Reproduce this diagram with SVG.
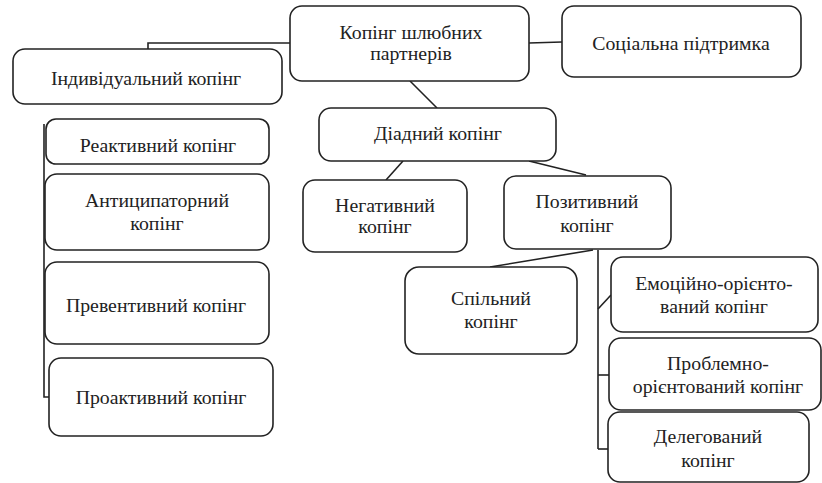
<svg xmlns="http://www.w3.org/2000/svg" width="822" height="483" viewBox="0 0 822 483">
<style>
.box{fill:#fff;stroke:#222;stroke-width:1.6}
.ln{fill:none;stroke:#222;stroke-width:1.6}
.t{fill:#222;text-anchor:middle}
</style>
<rect width="822" height="483" fill="#fff"/>
<g id="connectors">
<polyline class="ln" points="148,49 148,43 291,43"/>
<line class="ln" x1="529" y1="43" x2="562" y2="42"/>
<line class="ln" x1="410" y1="81" x2="437" y2="108"/>
<line class="ln" x1="403" y1="161" x2="386" y2="180"/>
<line class="ln" x1="529" y1="161" x2="586" y2="175"/>
<polyline class="ln" points="44,124 44,397 49,397"/>
<line class="ln" x1="598" y1="250" x2="598" y2="449"/>
<line class="ln" x1="598" y1="449" x2="608" y2="449"/>
<line class="ln" x1="593" y1="250" x2="490" y2="267"/>
<line class="ln" x1="598" y1="309" x2="611" y2="295"/>
<line class="ln" x1="598" y1="375" x2="609" y2="375"/>
</g>
<g font-family="Liberation Serif, Times New Roman, serif" font-size="19.8">
<g id="n-main"><rect class="box" x="290" y="6" width="239" height="75" rx="12"/><text class="t" x="411" y="39">Копінг шлюбних</text><text class="t" x="411" y="60">партнерів</text></g>
<g id="n-social"><rect class="box" x="562" y="6" width="239" height="71" rx="12"/><text class="t" x="681" y="50">Соціальна підтримка</text></g>
<g id="n-individual"><rect class="box" x="13" y="49" width="269" height="55" rx="12"/><text class="t" x="146" y="85">Індивідуальний копінг</text></g>
<g id="n-dyadic"><rect class="box" x="319" y="108" width="237" height="53" rx="12"/><text class="t" x="438" y="140">Діадний копінг</text></g>
<g id="n-reactive"><rect class="box" x="46" y="119" width="223" height="45" rx="10"/><text class="t" x="158" y="152">Реактивний копінг</text></g>
<g id="n-anticipatory"><rect class="box" x="45" y="174" width="224" height="76" rx="12"/><text class="t" x="157" y="207">Антиципаторний</text><text class="t" x="157" y="230">копінг</text></g>
<g id="n-preventive"><rect class="box" x="45" y="262" width="224" height="82" rx="12"/><text class="t" x="156" y="312">Превентивний копінг</text></g>
<g id="n-proactive"><rect class="box" x="49" y="358" width="224" height="78" rx="12"/><text class="t" x="161" y="404">Проактивний копінг</text></g>
<g id="n-negative"><rect class="box" x="303" y="180" width="164" height="72" rx="12"/><text class="t" x="385" y="212">Негативний</text><text class="t" x="385" y="233">копінг</text></g>
<g id="n-positive"><rect class="box" x="504" y="176" width="167" height="73" rx="12"/><text class="t" x="587" y="208">Позитивний</text><text class="t" x="587" y="232">копінг</text></g>
<g id="n-joint"><rect class="box" x="405" y="267" width="172" height="87" rx="14"/><text class="t" x="491" y="305">Спільний</text><text class="t" x="491" y="328">копінг</text></g>
<g id="n-emotion"><rect class="box" x="611" y="257" width="207" height="75" rx="12"/><text class="t" x="714" y="290">Емоційно-орієнто-</text><text class="t" x="714" y="313">ваний копінг</text></g>
<g id="n-problem"><rect class="box" x="609" y="338" width="212" height="72" rx="12"/><text class="t" x="718" y="370">Проблемно-</text><text class="t" x="718" y="393">орієнтований копінг</text></g>
<g id="n-delegated"><rect class="box" x="608" y="412" width="201" height="70" rx="12"/><text class="t" x="708" y="443">Делегований</text><text class="t" x="708" y="467">копінг</text></g>
</g>
</svg>
